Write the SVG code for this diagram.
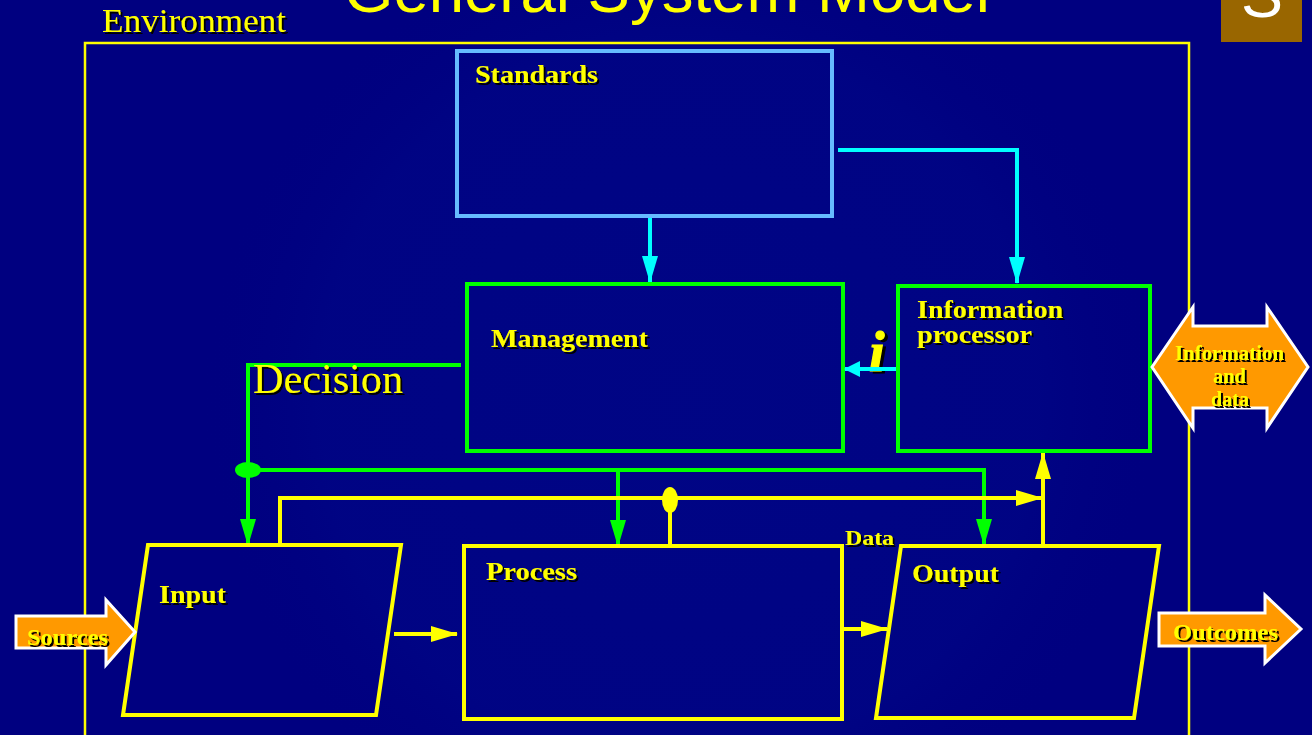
<svg xmlns="http://www.w3.org/2000/svg" width="1312" height="735" viewBox="0 0 1312 735">
<style>
.sf{font-family:"Liberation Serif","Times New Roman",serif;fill:#ffff00}
.b{font-weight:700;font-size:25px}
.sh{filter:url(#shadow)}
.box{fill:none;stroke-width:4}
.y{stroke:#ffff00}.g{stroke:#00ff00}.c{stroke:#00ffff}
.line{fill:none;stroke-width:4}
.big{fill:#ff9900;stroke:#ffffff;stroke-width:3}
</style>
<defs>
<filter id="shadow" x="-10%" y="-20%" width="120%" height="140%"><feDropShadow dx="2" dy="2" stdDeviation="0.4" flood-color="#000000"/></filter>
<radialGradient id="glow" cx="680" cy="400" r="480" gradientUnits="userSpaceOnUse"><stop offset="0" stop-color="#001090" stop-opacity=".3"/><stop offset=".75" stop-color="#001090" stop-opacity=".22"/><stop offset="1" stop-color="#000080" stop-opacity="0"/></radialGradient>
<marker id="ay" markerUnits="userSpaceOnUse" markerWidth="27" markerHeight="16" refX="26" refY="8" orient="auto"><path d="M0 0L27 8L0 16Z" fill="#ffff00"/></marker>
<marker id="ag" markerUnits="userSpaceOnUse" markerWidth="27" markerHeight="16" refX="26" refY="8" orient="auto"><path d="M0 0L27 8L0 16Z" fill="#00ff00"/></marker>
<marker id="ac" markerUnits="userSpaceOnUse" markerWidth="27" markerHeight="16" refX="26" refY="8" orient="auto"><path d="M0 0L27 8L0 16Z" fill="#00ffff"/></marker>
<marker id="acs" markerUnits="userSpaceOnUse" markerWidth="16" markerHeight="16" refX="15" refY="8" orient="auto"><path d="M0 0L16 8L0 16Z" fill="#00ffff"/></marker>
</defs>
<rect width="1312" height="735" fill="#000080"/>
<rect width="1312" height="735" fill="url(#glow)"/>
<text x="344" y="12" font-family="Liberation Sans,Arial,sans-serif" font-size="63" fill="#ffff00" textLength="646" lengthAdjust="spacingAndGlyphs">General System Model</text>
<g id="page-number"><rect x="1221" y="0" width="81" height="42" fill="#996600"/><text x="1262" y="17" text-anchor="middle" font-family="Liberation Sans,Arial,sans-serif" font-size="63" fill="#ffffff">S</text></g>
<g id="environment"><rect x="85" y="43" width="1104" height="720" fill="none" stroke="#ffff00" stroke-width="2.5"/><text class="sf sh" x="102" y="32" font-size="33" textLength="184" lengthAdjust="spacingAndGlyphs">Environment</text></g>
<g id="connectors">
<path class="line c" d="M650 217V282" marker-end="url(#ac)"/>
<path class="line c" d="M838 150H1017V283" marker-end="url(#ac)"/>
<path class="line g" d="M461 365H248V545" marker-end="url(#ag)"/>
<path class="line g" d="M248 470H984V545" marker-end="url(#ag)"/>
<path class="line g" d="M618 470V546" marker-end="url(#ag)"/>
<path class="line y" d="M280 544V498H1042" marker-end="url(#ay)"/>
<path class="line y" d="M670 498V545"/>
<path class="line y" d="M1043 545V453" marker-end="url(#ay)"/>
<path class="line y" d="M394 634H457" marker-end="url(#ay)"/>
<path class="line y" d="M843 629H887" marker-end="url(#ay)"/>
<ellipse cx="248" cy="470" rx="13" ry="8" fill="#00ff00"/>
<ellipse cx="670" cy="500" rx="8" ry="13" fill="#ffff00"/>
</g>
<g id="standards"><rect class="box" x="457" y="51" width="375" height="165" stroke="#66bbff"/><text class="sf b sh" x="475" y="83" textLength="123" lengthAdjust="spacingAndGlyphs">Standards</text></g>
<g id="management"><rect class="box g" x="467" y="284" width="376" height="167"/><text class="sf b sh" x="491" y="347" textLength="157" lengthAdjust="spacingAndGlyphs">Management</text></g>
<g id="information-processor"><rect class="box g" x="898" y="286" width="252" height="165"/><text class="sf b sh" x="917" y="318" textLength="146" lengthAdjust="spacingAndGlyphs">Information</text><text class="sf b sh" x="917" y="343" textLength="115" lengthAdjust="spacingAndGlyphs">processor</text></g>
<g id="i-label"><text class="sf" x="869" y="371" font-size="56" font-weight="700" font-style="italic" stroke="#ffff00" stroke-width="1.2" style="filter:drop-shadow(3px 2px 0.5px #000)">i</text><path class="line c" d="M896 369H845" marker-end="url(#acs)"/></g>
<g id="decision"><text class="sf sh" x="253" y="393" font-size="42" textLength="150" lengthAdjust="spacingAndGlyphs">Decision</text></g>
<g id="input"><path class="box y" d="M148 545H401L376 715H123Z"/><text class="sf b sh" x="159" y="603" textLength="67" lengthAdjust="spacingAndGlyphs">Input</text></g>
<g id="process"><rect class="box y" x="464" y="546" width="378" height="173"/><text class="sf b sh" x="486" y="580" textLength="91" lengthAdjust="spacingAndGlyphs">Process</text></g>
<g id="output"><path class="box y" d="M901 546H1159L1134 718H876Z"/><text class="sf b sh" x="912" y="582" textLength="87" lengthAdjust="spacingAndGlyphs">Output</text></g>
<g id="data"><text class="sf sh" x="845" y="545" font-size="22" font-weight="700" textLength="49" lengthAdjust="spacingAndGlyphs">Data</text></g>
<g id="sources"><path class="big" d="M16 616H106V600L135 632L106 665V648H16Z"/><text class="sf sh" x="27" y="645" font-size="23" font-weight="700" textLength="81" lengthAdjust="spacingAndGlyphs">Sources</text></g>
<g id="outcomes"><path class="big" d="M1159 613H1265V595L1301 629L1265 663V646H1159Z"/><text class="sf sh" x="1173" y="640" font-size="23" font-weight="700" textLength="105" lengthAdjust="spacingAndGlyphs">Outcomes</text></g>
<g id="information-data"><path class="big" d="M1152 367L1193 307V326H1267V307L1308 367L1267 428V408H1193V428Z"/><text class="sf sh" x="1175" y="360" font-size="20" font-weight="700" textLength="109" lengthAdjust="spacingAndGlyphs">Information</text><text class="sf sh" x="1213" y="383" font-size="20" font-weight="700" textLength="33" lengthAdjust="spacingAndGlyphs">and</text><text class="sf sh" x="1211" y="406" font-size="20" font-weight="700" textLength="38" lengthAdjust="spacingAndGlyphs">data</text></g>
</svg>
